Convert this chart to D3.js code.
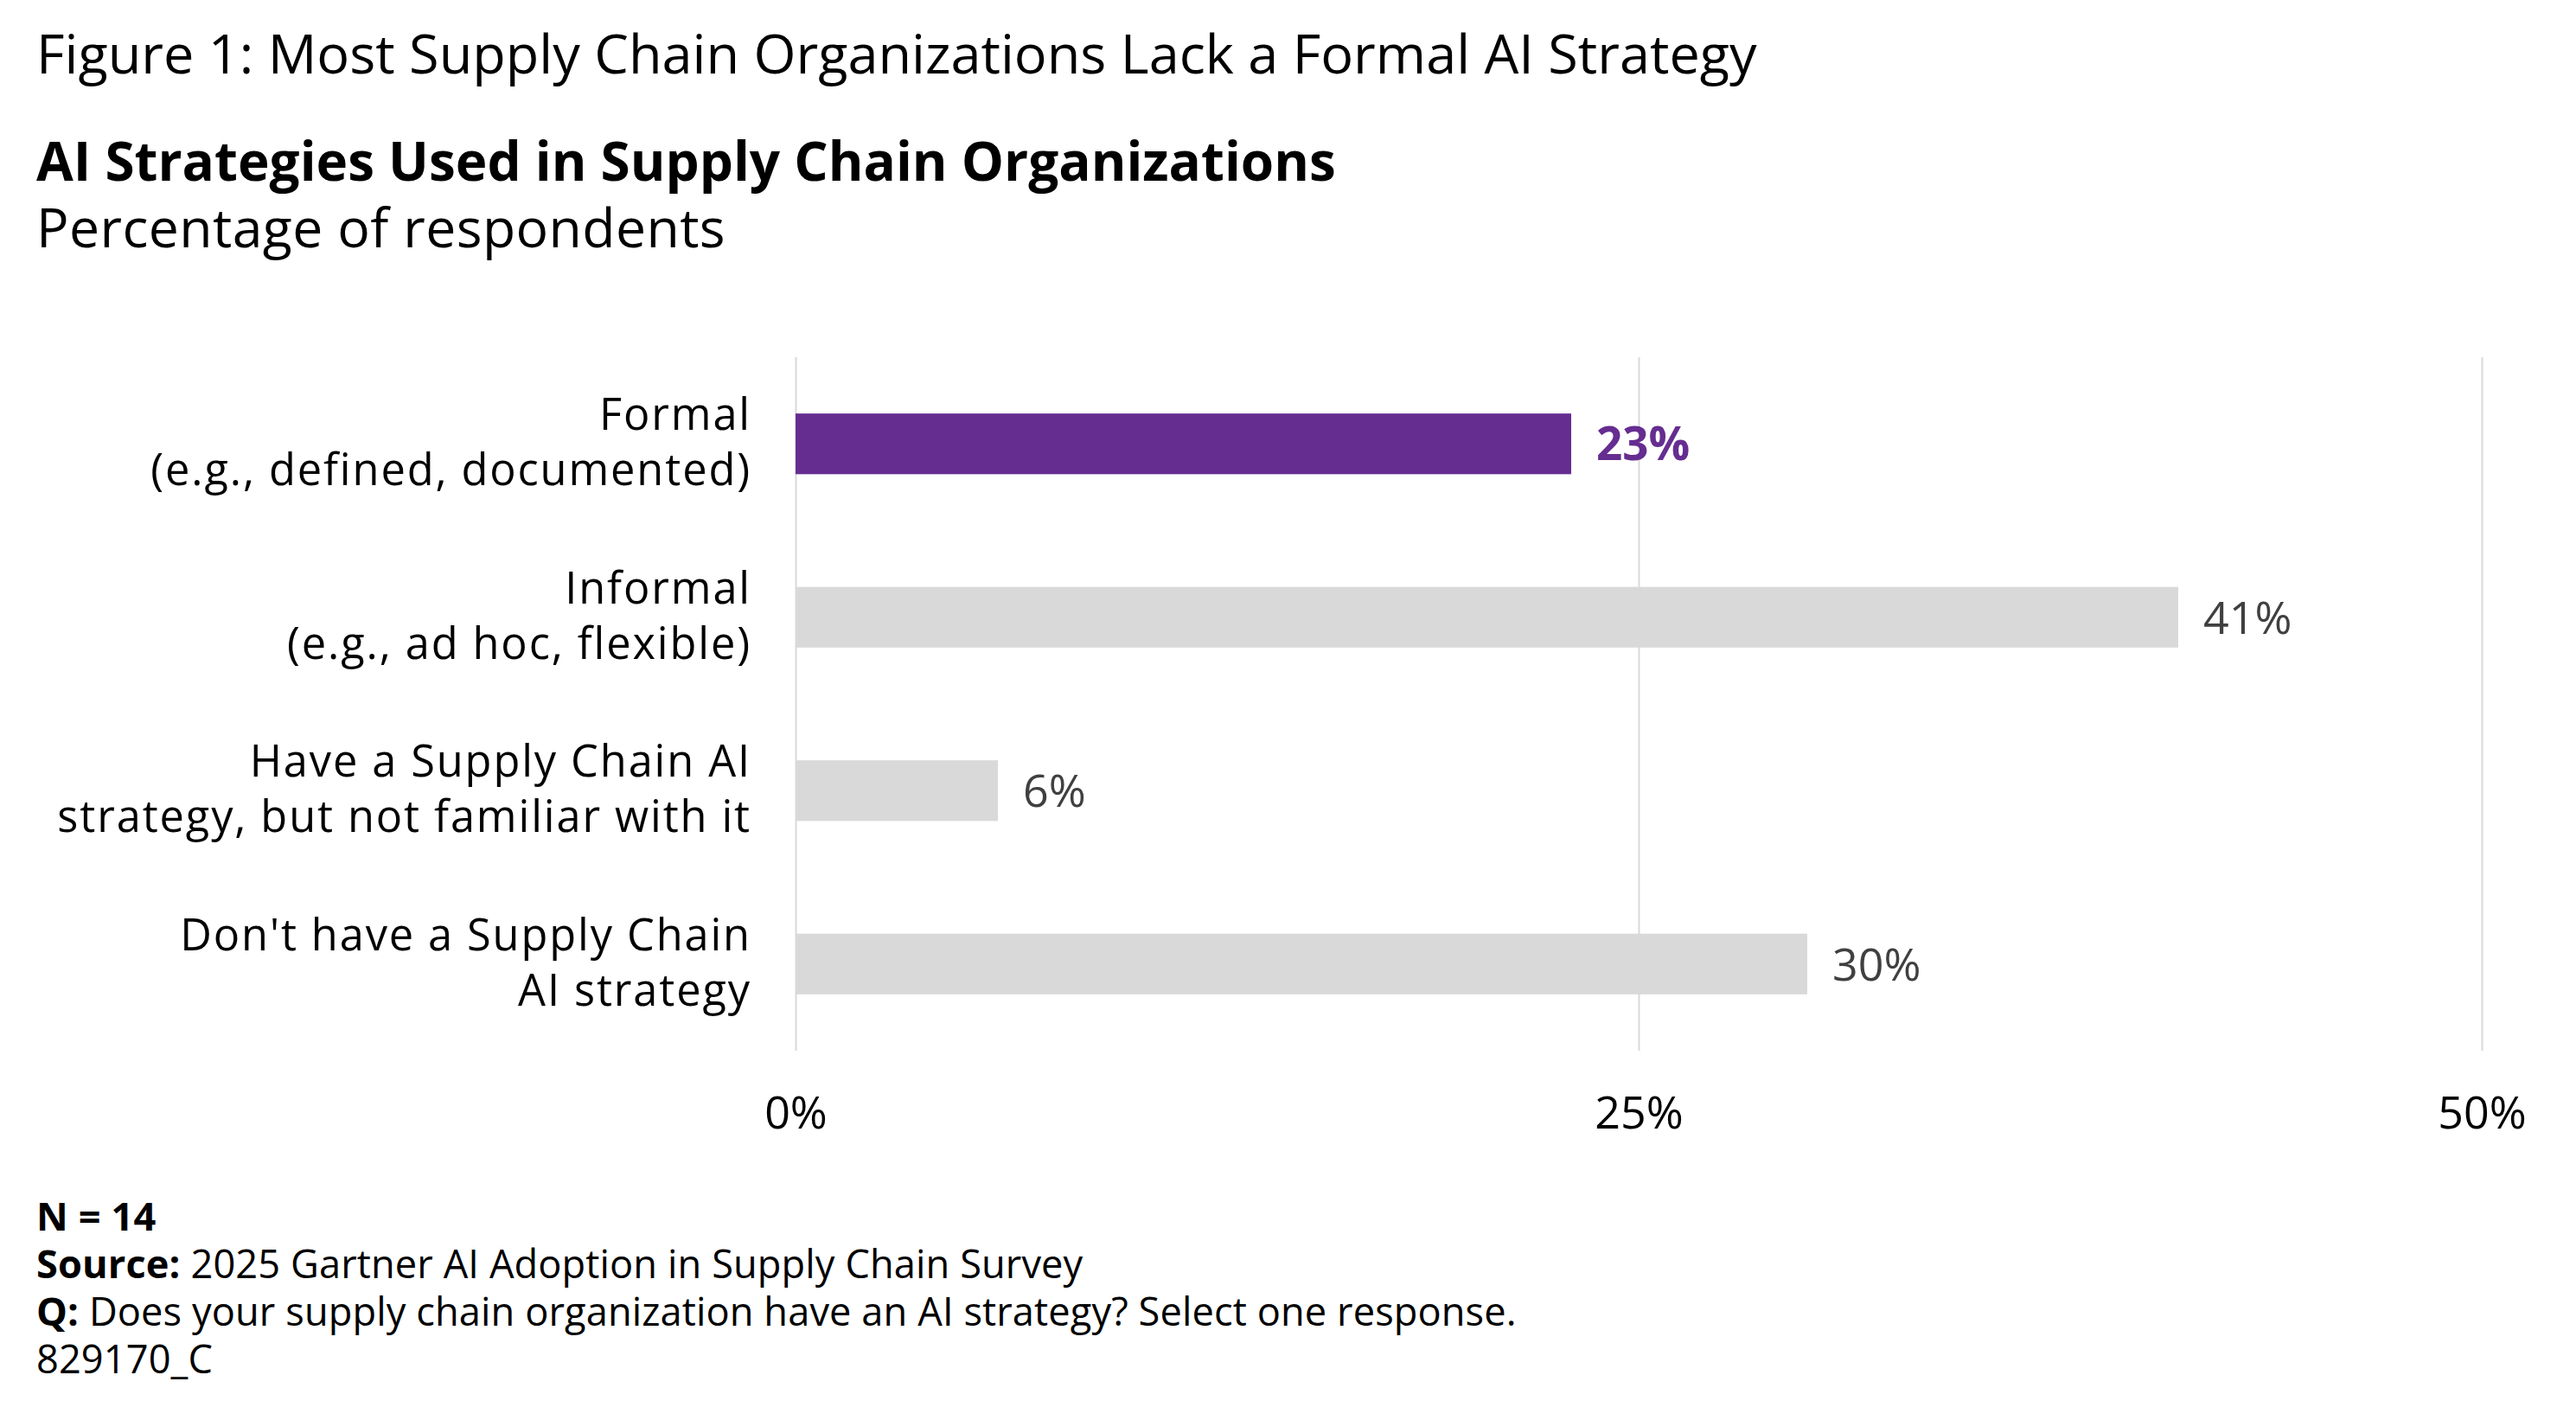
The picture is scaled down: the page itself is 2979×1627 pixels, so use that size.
<!DOCTYPE html>
<html>
<head>
<meta charset="utf-8">
<script src="https://cdn.jsdelivr.net/npm/d3@7"></script>
<style>
  html, body { margin: 0; padding: 0; background: #fff; }
  svg { display: block; font-family: "Open Sans", Lato, sans-serif; font-variant-ligatures: none; }
</style>
</head>
<body>
<svg id="chart" width="2979" height="1627"></svg>
<script>
const categories = [
  ["Formal", "(e.g., defined, documented)"],
  ["Informal", "(e.g., ad hoc, flexible)"],
  ["Have a Supply Chain AI", "strategy, but not familiar with it"],
  ["Don't have a Supply Chain", "AI strategy"]
];
const values = [0.23, 0.41, 0.06, 0.30];
const highlight = [true, false, false, false];
const tickValues = [0, 0.25, 0.5];
const tickLabels = ["0%", "25%", "50%"];
const titleText = "Figure 1: Most Supply Chain Organizations Lack a Formal AI Strategy";
const subtitleText = "AI Strategies Used in Supply Chain Organizations";
const subtitle2Text = "Percentage of respondents";
const footerLines = [
  [["N = 14", true]],
  [["Source:", true], [" 2025 Gartner AI Adoption in Supply Chain Survey", false]],
  [["Q:", true], [" Does your supply chain organization have an AI strategy? Select one response.", false]],
  [["829170_C", false]]
];

const svg = d3.select("#chart");
const purple = "#662D91", grey = "#D9D9D9", gridColor = "#D9D9D9";

const x = d3.scaleLinear().domain([0, 0.5]).range([920, 2870]);
const y = d3.scaleBand().domain(d3.range(categories.length)).range([413, 1215])
  .paddingInner(0.65).paddingOuter(0.325);

// titles
svg.append("text").attr("x", 42).attr("y", 85).attr("font-size", 63).attr("fill", "#000").text(titleText);
svg.append("text").attr("x", 42).attr("y", 209).attr("font-size", 62).attr("font-weight", 700).attr("fill", "#000").text(subtitleText);
svg.append("text").attr("x", 42).attr("y", 286).attr("font-size", 62.5).attr("letter-spacing", 0.4).attr("fill", "#000").text(subtitle2Text);

// axis with gridlines
const axis = d3.axisBottom(x).tickValues(tickValues).tickFormat((d, i) => tickLabels[i])
  .tickSizeInner(-(1215 - 413)).tickSizeOuter(0);
const gAxis = svg.append("g").attr("transform", "translate(0,1215)").call(axis);
gAxis.select(".domain").remove();
gAxis.selectAll(".tick line").attr("stroke", gridColor).attr("stroke-width", 2);
gAxis.selectAll(".tick text").attr("y", 90).attr("dy", 0).attr("font-size", 52)
  .attr("font-family", "'Open Sans', sans-serif").attr("fill", "#000");

// bars
svg.append("g").selectAll("rect").data(values).join("rect")
  .attr("x", x(0)).attr("y", (d, i) => y(i))
  .attr("width", d => x(d) - x(0)).attr("height", y.bandwidth())
  .attr("fill", (d, i) => highlight[i] ? purple : grey);

// value labels
svg.append("g").selectAll("text").data(values).join("text")
  .attr("x", d => x(d) + 29)
  .attr("y", (d, i) => y(i) + y.bandwidth() / 2 + 19)
  .attr("font-size", (d, i) => highlight[i] ? 53 : 52)
  .attr("font-weight", (d, i) => highlight[i] ? 700 : 400)
  .attr("fill", (d, i) => highlight[i] ? purple : "#404040")
  .text(d => Math.round(d * 100) + "%");

// category labels
const catG = svg.append("g").selectAll("text").data(categories).join("text")
  .attr("text-anchor", "end").attr("font-size", 50.5).attr("letter-spacing", 1.9).attr("fill", "#000");
catG.each(function(lines, i) {
  const c = y(i) + y.bandwidth() / 2;
  d3.select(this).selectAll("tspan").data(lines).join("tspan")
    .attr("x", 869)
    .attr("y", (l, j) => c - 16 + j * 64)
    .text(l => l);
});

// footer
const foot = svg.append("g");
footerLines.forEach((parts, i) => {
  const t = foot.append("text").attr("x", 42).attr("y", 1423 + i * 55).attr("font-size", 45.2).attr("letter-spacing", 0.1).attr("fill", "#000");
  parts.forEach(p => t.append("tspan").attr("font-weight", p[1] ? 700 : 400).text(p[0]));
});
</script>
</body>
</html>
